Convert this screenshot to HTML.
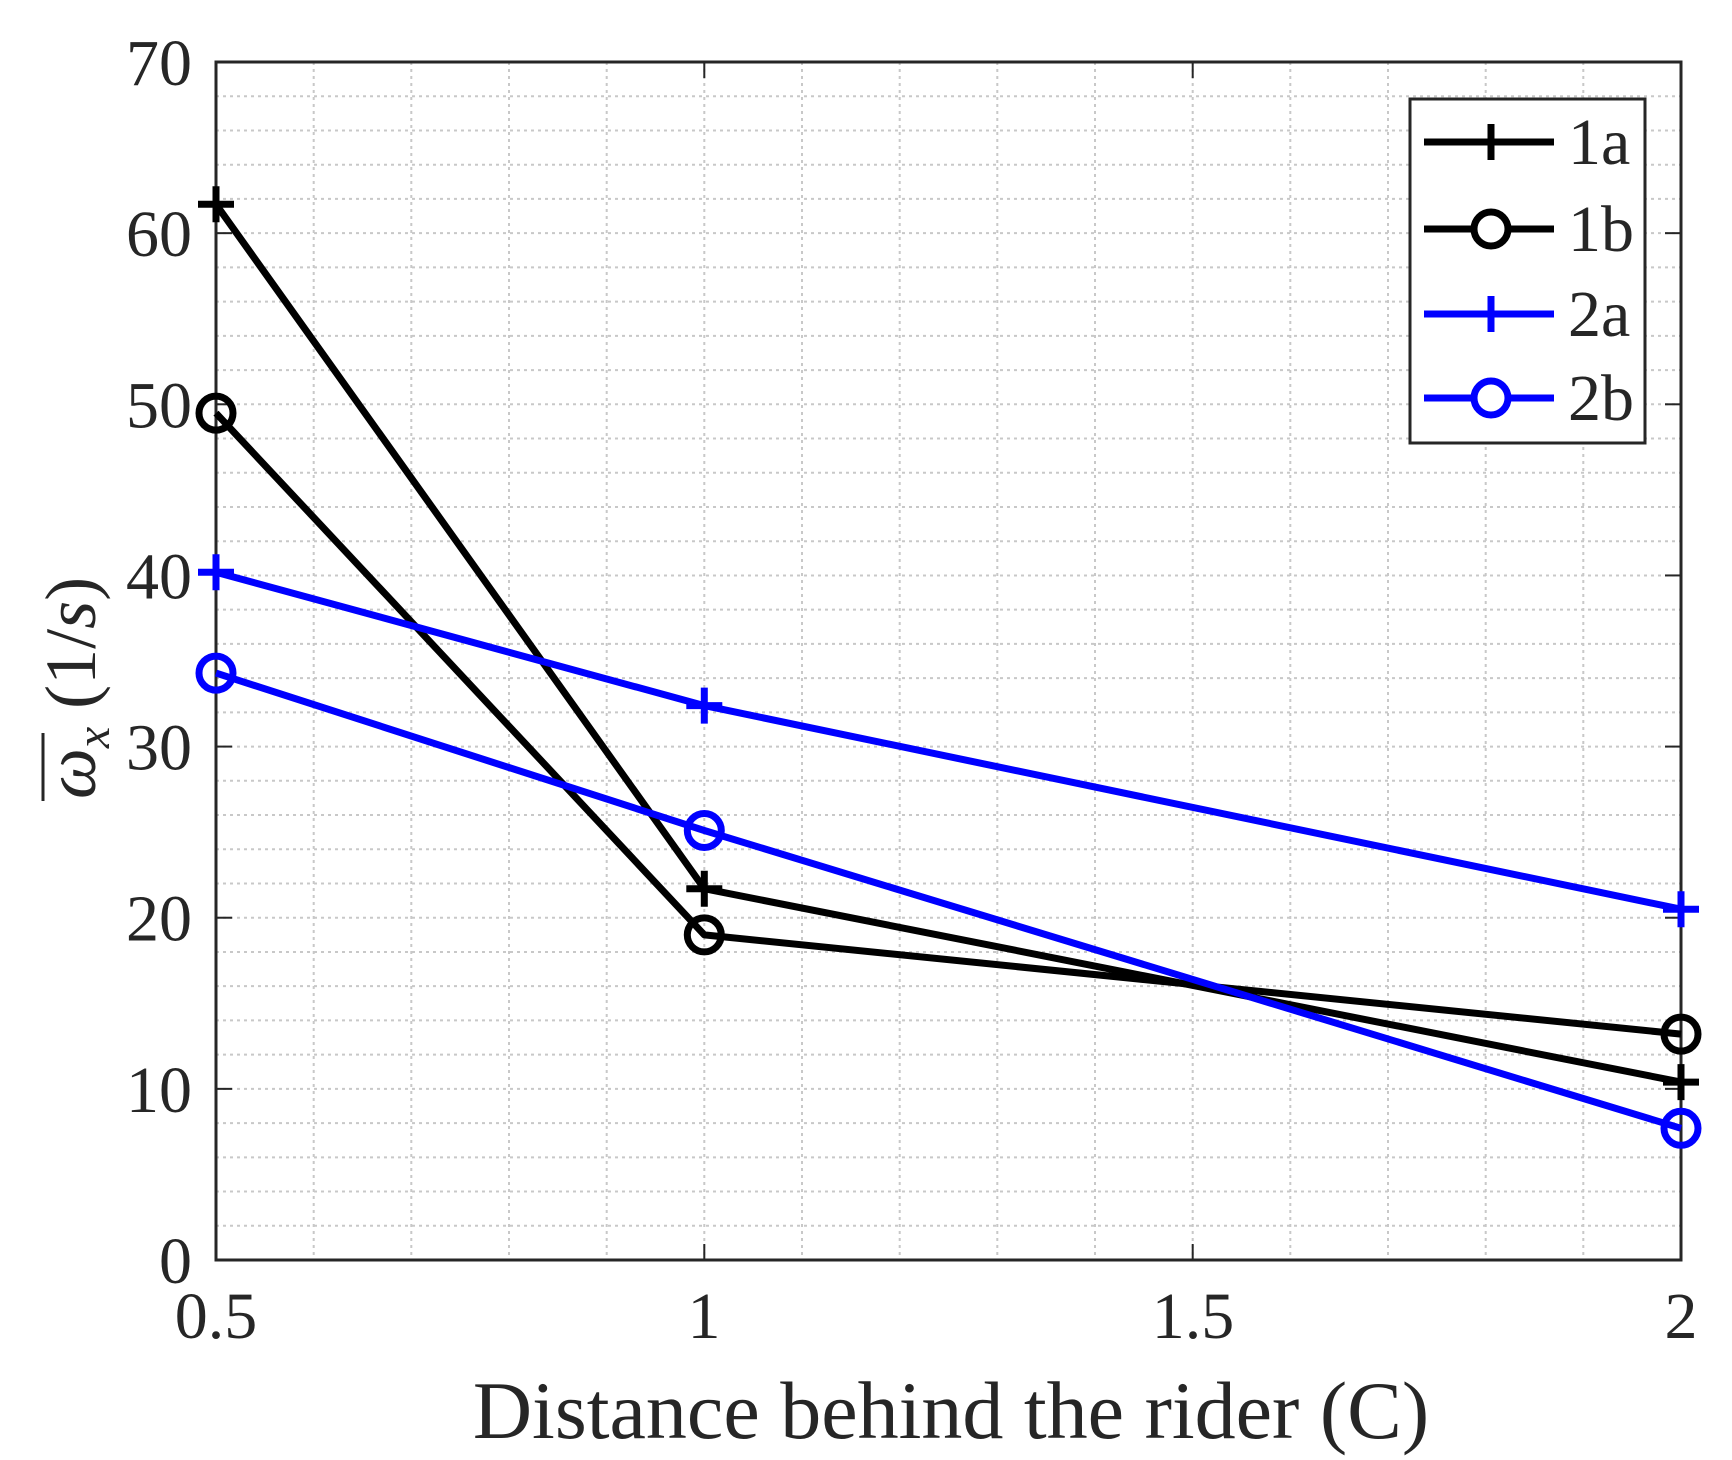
<!DOCTYPE html>
<html><head><style>body{margin:0;background:#fff}svg{display:block}text{font-family:"Liberation Serif",serif;fill:#262626}</style></head><body>
<svg width="1732" height="1460" viewBox="0 0 1732 1460" xmlns="http://www.w3.org/2000/svg">
<g stroke="#c8c8c8" stroke-width="2" stroke-dasharray="3,4">
<line x1="313.7" y1="62" x2="313.7" y2="1260"/><line x1="411.3" y1="62" x2="411.3" y2="1260"/><line x1="509" y1="62" x2="509" y2="1260"/><line x1="606.7" y1="62" x2="606.7" y2="1260"/><line x1="704.3" y1="62" x2="704.3" y2="1260"/><line x1="802" y1="62" x2="802" y2="1260"/><line x1="899.7" y1="62" x2="899.7" y2="1260"/><line x1="997.3" y1="62" x2="997.3" y2="1260"/><line x1="1095" y1="62" x2="1095" y2="1260"/><line x1="1192.7" y1="62" x2="1192.7" y2="1260"/><line x1="1290.3" y1="62" x2="1290.3" y2="1260"/><line x1="1388" y1="62" x2="1388" y2="1260"/><line x1="1485.7" y1="62" x2="1485.7" y2="1260"/><line x1="1583.3" y1="62" x2="1583.3" y2="1260"/>
</g>
<g id="hg" stroke="#c8c8c8" stroke-width="2" stroke-dasharray="3,4"></g>
<rect x="216" y="62" width="1465" height="1198" fill="none" stroke="#262626" stroke-width="3"/>
<g id="ticks" stroke="#262626" stroke-width="2"></g>
<g font-size="66" text-anchor="end" id="yl"></g>
<g font-size="66" text-anchor="middle">
<text x="216" y="1338">0.5</text><text x="704" y="1338">1</text><text x="1193" y="1338">1.5</text><text x="1681" y="1338">2</text>
</g>
<text x="951" y="1438" font-size="82" text-anchor="middle">Distance behind the rider (C)</text>
<g transform="translate(95,669) rotate(-90)"><text x="-130" y="0" font-size="72"><tspan font-style="italic">ω</tspan><tspan font-style="italic" font-size="48" dy="14">x</tspan><tspan dy="-14"> (1/</tspan><tspan font-style="italic">s</tspan>)</text>
<line x1="-132" y1="-52" x2="-64" y2="-52" stroke="#262626" stroke-width="3"/></g>
<g fill="none" stroke-width="7" stroke-linejoin="round">
<polyline stroke="#000" points="216,204.3 704.3,888.7 1681,1082.1"/>
<polyline stroke="#000" points="216,413.1 704.3,934.9 1681,1034.1"/>
<polyline stroke="#0000ff" points="216,572.2 704.3,705.6 1681,909.2"/>
<polyline stroke="#0000ff" points="216,673.1 704.3,830.5 1681,1128.3"/>
</g>
<g stroke-width="7" fill="none">
<path stroke="#000" d="M198 204.3h36M216 186.3v36M686.3 888.7h36M704.3 870.7v36M1663 1082.1h36M1681 1064.1v36"/>
<circle stroke="#000" cx="216" cy="413.1" r="17"/><circle stroke="#000" cx="704.3" cy="934.9" r="17"/><circle stroke="#000" cx="1681" cy="1034.1" r="17"/>
<path stroke="#0000ff" d="M198 572.2h36M216 554.2v36M686.3 705.6h36M704.3 687.6v36M1663 909.2h36M1681 891.2v36"/>
<circle stroke="#0000ff" cx="216" cy="673.1" r="17"/><circle stroke="#0000ff" cx="704.3" cy="830.5" r="17"/><circle stroke="#0000ff" cx="1681" cy="1128.3" r="17"/>
</g>
<rect x="1410" y="99" width="235" height="344" fill="#fff" stroke="#262626" stroke-width="3"/>
<g stroke-width="7" fill="none">
<path stroke="#000" d="M1424 142h130M1491 124v36"/>
<path stroke="#000" d="M1424 229h130"/><circle stroke="#000" cx="1491" cy="229" r="17" fill="#fff"/>
<path stroke="#0000ff" d="M1424 314h130M1491 296v36"/>
<path stroke="#0000ff" d="M1424 398h130"/><circle stroke="#0000ff" cx="1491" cy="398" r="17" fill="#fff"/>
</g>
<g font-size="66"><text x="1568" y="164">1a</text><text x="1568" y="251">1b</text><text x="1568" y="336">2a</text><text x="1568" y="420">2b</text></g>
<script>
var hg=document.getElementById('hg'),tk=document.getElementById('ticks'),yl=document.getElementById('yl'),ns='http://www.w3.org/2000/svg';
function L(g,a){var l=document.createElementNS(ns,'line');for(var k in a)l.setAttribute(k,a[k]);g.appendChild(l);}
for(var v=2;v<70;v+=2){var y=1260-v*17.114;L(hg,{x1:216,x2:1681,y1:y,y2:y});}
for(var v=0;v<=70;v+=10){var y=1260-v*17.114;L(tk,{x1:216,x2:232,y1:y,y2:y});L(tk,{x1:1665,x2:1681,y1:y,y2:y});var t=document.createElementNS(ns,'text');t.setAttribute('x',192);t.setAttribute('y',y+23);t.textContent=v;yl.appendChild(t);}
[216,704.3,1192.7,1681].forEach(function(x){L(tk,{x1:x,x2:x,y1:1260,y2:1244});L(tk,{x1:x,x2:x,y1:62,y2:78});});
</script>
</svg>
</body></html>
